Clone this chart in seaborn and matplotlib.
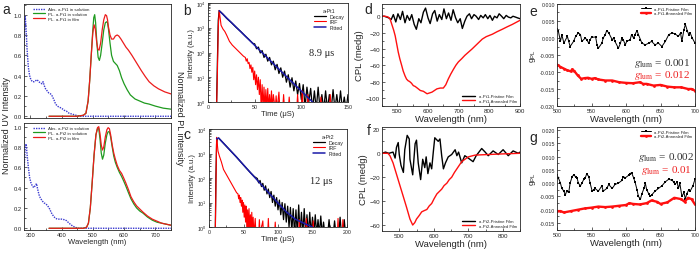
import numpy as np
import matplotlib
matplotlib.use("Agg")
import matplotlib.pyplot as plt
import seaborn as sns
from matplotlib.ticker import MultipleLocator, FormatStrFormatter

sns.set_style("ticks")
plt.rcParams['font.family'] = ['Liberation Sans', 'DejaVu Sans']
plt.rcParams['mathtext.fontset'] = 'stix'

# ---------------- panel a : absorption / PL ----------------
abs1_wl = [280, 282, 284, 286, 290, 294, 298, 302, 307, 312, 317, 322, 327, 332, 337, 341, 345, 349,
           354, 359, 365, 370, 376, 381, 387, 392, 400, 408, 416, 424, 435, 446, 460, 473, 600, 750]
abs1 = [0.70, 0.85, 0.98, 0.90, 0.65, 0.48, 0.40, 0.36, 0.34, 0.34, 0.35, 0.36, 0.34, 0.33, 0.32, 0.34,
        0.30, 0.27, 0.25, 0.23, 0.22, 0.20, 0.16, 0.12, 0.10, 0.09, 0.08, 0.06, 0.05, 0.03, 0.02, 0.01,
        0.0, 0.0, 0.0, 0.0]
pl1_wl = [360, 400, 450, 470, 478, 485, 490, 495, 500, 503, 506, 509, 513, 517, 521, 525, 530, 535, 540,
          544, 547, 550, 555, 560, 566, 572, 578, 585, 592, 600, 610, 620, 635, 650, 665, 680, 700, 725, 750]
pls1 = [0, 0, 0, 0.01, 0.03, 0.15, 0.35, 0.6, 0.85, 0.97, 1.0, 0.92, 0.72, 0.58, 0.55, 0.6, 0.72, 0.85,
        0.92, 0.93, 0.92, 0.86, 0.72, 0.6, 0.54, 0.52, 0.5, 0.45, 0.38, 0.32, 0.26, 0.21, 0.17, 0.15,
        0.13, 0.12, 0.10, 0.08, 0.07]
plf1_wl = [360, 400, 450, 470, 478, 485, 490, 495, 500, 504, 508, 512, 516, 520, 525, 530, 535, 540, 544,
           547, 550, 555, 560, 566, 572, 578, 583, 590, 598, 606, 614, 625, 635, 645, 655, 668, 680, 695,
           710, 730, 750]
plf1 = [0, 0, 0, 0.01, 0.03, 0.15, 0.35, 0.6, 0.82, 0.9, 0.86, 0.74, 0.66, 0.65, 0.72, 0.85, 0.95, 1.0,
        0.99, 0.95, 0.88, 0.8, 0.76, 0.76, 0.79, 0.80, 0.79, 0.76, 0.72, 0.68, 0.65, 0.6, 0.55, 0.5,
        0.45, 0.39, 0.34, 0.3, 0.27, 0.24, 0.22]

abs2_wl = [280, 282, 284, 287, 290, 294, 298, 302, 306, 311, 316, 320, 324, 328, 332, 338, 344, 350, 356,
           362, 368, 374, 380, 386, 392, 400, 408, 416, 424, 432, 440, 452, 470, 600, 750]
abs2 = [0.52, 0.70, 0.80, 0.83, 0.72, 0.6, 0.5, 0.45, 0.42, 0.40, 0.42, 0.44, 0.38, 0.33, 0.30, 0.27,
        0.25, 0.24, 0.22, 0.19, 0.15, 0.12, 0.10, 0.09, 0.09, 0.09, 0.085, 0.075, 0.05, 0.03, 0.015,
        0.0, 0.0, 0.0, 0.0]
pl2_wl = [360, 420, 470, 480, 486, 492, 498, 504, 510, 515, 519, 523, 527, 531, 535, 540, 545, 549, 553,
          557, 562, 567, 572, 578, 585, 592, 598, 605, 614, 622, 631, 640, 650, 660, 675, 690, 705, 720,
          735, 750]
plf2 = [0, 0, 0, 0.01, 0.05, 0.2, 0.45, 0.72, 0.92, 0.99, 1.0, 0.93, 0.82, 0.77, 0.8, 0.9, 0.97, 0.99,
        0.98, 0.92, 0.82, 0.74, 0.68, 0.62, 0.57, 0.54, 0.5, 0.45, 0.38, 0.31, 0.26, 0.22, 0.19, 0.16,
        0.12, 0.09, 0.07, 0.05, 0.04, 0.03]
pls2 = [0, 0, 0, 0.01, 0.05, 0.2, 0.45, 0.72, 0.92, 0.98, 0.98, 0.88, 0.74, 0.68, 0.72, 0.84, 0.92, 0.95,
        0.95, 0.9, 0.8, 0.71, 0.65, 0.6, 0.55, 0.51, 0.47, 0.42, 0.35, 0.29, 0.24, 0.2, 0.17, 0.15,
        0.11, 0.08, 0.06, 0.05, 0.04, 0.03]

# ---------------- panels b, c : decay (log10 intensity) ----------------
b_dec_t = [0, 9, 10, 11, 12, 16, 20, 25, 30, 35, 40, 44, 48] + list(range(50, 151, 2))
b_dec_log = [-0.5, -0.5, 1.5, 3.3, 3.69, 3.55, 3.38, 3.21, 3.02, 2.85, 2.66, 2.52, 2.37,
             2.35, 2.15, 2.22, 1.98, 2.08, 1.80, 1.93, 1.65, 1.80, 1.50, 1.65, 1.30, 1.52, 1.15, 1.38,
             1.0, 1.25, 0.8, 1.1, 0.6, 0.98, 0.45, 0.85, 0.3, 0.75, 0.1, 0.7, -0.2, 0.6, 0.0,
             0.55, -0.3, 0.45, -0.3, 0.6, -0.3, 0.3, -0.3, 0.45, -0.3, 0.3, -0.3, 0.5, -0.3, 0.3,
             -0.3, 0.45, -0.3, 0.2, -0.3, 0.3]
b_irf_t = [0, 9, 10, 11, 12, 13, 14, 16, 18, 20, 23, 26, 30, 34, 38] + list(range(40, 71)) + \
          [72, 73, 74, 76, 77, 80, 81, 82, 86, 87, 88, 95, 96, 97, 100, 101, 102, 106, 107, 108,
           120, 121, 122, 130, 131, 132, 150]
b_irf_log = [-0.5, -0.5, 1.0, 3.0, 3.7, 3.4, 3.1, 2.95, 2.85, 2.7, 2.45, 2.3, 2.15, 2.0, 1.85,
             1.8, 1.65, 1.75, 1.55, 1.6, 1.35, 1.5, 1.2, 1.4, 0.9, 1.25, 0.7, 1.1, 0.5, 1.0, 0.3, 0.9,
             -0.3, 0.7, -0.3, 0.6, -0.3, 0.5, -0.3, 0.55, -0.3, 0.3, -0.3, 0.45, -0.3, 0.3,
             -0.3, 0.25, -0.3, 0.4, -0.3, -0.3, 0.3, -0.3, -0.3, 0.2, -0.3, -0.3, 0.3, -0.3, -0.3,
             0.45, -0.3, -0.3, 0.3, -0.3, -0.3, 0.2, -0.3, -0.3, 0.3, -0.3, -0.3]
b_fit_t = [12, 30, 50, 70, 90, 112]
b_fit_log = [3.69, 3.03, 2.29, 1.55, 0.81, 0.0]

c_dec_t = [0, 9, 10, 11, 12, 14, 20, 30, 40, 50, 60, 66] + list(range(70, 201, 2))
c_dec_log = [-0.5, -0.5, 2.0, 3.4, 3.6, 3.63, 3.45, 3.15, 2.85, 2.53, 2.22, 2.05,
             1.98, 1.8, 1.9, 1.65, 1.78, 1.5, 1.68, 1.35, 1.55, 1.2, 1.45, 1.0, 1.3, 0.85, 1.2,
             0.7, 1.1, 0.5, 1.0, 0.3, 0.95, 0.2, 0.85, 0.0, 0.8, -0.2, 0.75, -0.3, 0.7, -0.3,
             0.9, -0.3, 0.6, -0.3, 0.75, -0.3, 0.5, -0.3, 0.6, -0.3, 0.4, -0.3, 0.5, -0.3, 0.3,
             -0.3, 0.45, -0.3, 0.2, -0.3, -0.3, -0.3, 0.3, -0.3, -0.3, -0.3, 0.25, -0.3, -0.3,
             -0.3, 0.4, -0.3, -0.3, 0.3, -0.3, -0.3]
c_irf_t = [0, 9, 10, 11, 12, 13, 15, 18, 21, 24, 28, 32, 36, 40, 42] + list(range(43, 66)) + \
          [67, 68, 72, 73, 74, 78, 79, 85, 86, 87, 95, 96, 97, 130, 131, 132, 140, 141, 142, 150,
           151, 152, 186, 187, 188, 193, 194, 195, 200]
c_irf_log = [-0.5, -0.5, 1.5, 3.66, 3.4, 3.1, 2.9, 2.65, 2.35, 2.2, 2.0, 1.8, 1.6, 1.4, 1.35,
             1.15, 1.3, 1.0, 1.2, 0.85, 1.1, 0.6, 1.0, 0.4, 0.9, 0.2, 0.85, -0.3, 0.7, -0.3, 0.75,
             -0.3, 0.5, -0.3, 0.6, -0.3, 0.4, -0.3,
             0.35, -0.3, -0.3, 0.3, -0.3, 0.25, -0.3, -0.3, 0.35, -0.3, -0.3, 0.2, -0.3, -0.3, 0.3,
             -0.3, -0.3, 0.35, -0.3, -0.3, 0.25, -0.3, -0.3, 0.35, -0.3, -0.3, 0.3, -0.3, -0.3]
c_fit_t = [11, 14, 40, 60, 80, 100, 112, 125, 140, 150]
c_fit_log = [3.6, 3.63, 2.85, 2.22, 1.6, 0.98, 0.62, 0.32, 0.12, 0.0]

# ---------------- panels d, f : CPL ----------------
d_wl_b = [450, 457, 465, 472, 480, 487, 495, 502, 510, 517, 525, 532, 540, 547, 555, 562, 570, 577, 585,
          592, 600, 607, 615, 622, 630, 637, 645, 652, 660, 667, 675, 682, 690, 697, 705, 712, 720, 727,
          735, 742, 750, 757, 765, 772, 780, 787, 795, 802, 810, 817, 825, 832, 840, 847, 855, 862, 870,
          877, 885, 892, 900]
d_b = [0, 0, -1, -2, -4, 2, -7, 3, -4, 6, -8, 1, -5, 2, -10, -16, -3, -8, 5, 10, -2, -9, 3, 7, -6, 2,
       -4, 9, -3, 4, -5, 8, -2, -8, -3, -15, -6, 0, 3, -3, 2, 0, -4, 1, -2, 2, -3, 1, -5, 0, -2, 3, 0,
       -3, 1, -1, -2, 0, -1, -2, -3]
d_wl_r = [450, 460, 470, 476, 482, 488, 493, 498, 503, 508, 514, 519, 525, 530, 535, 540, 546, 552, 558,
          565, 575, 585, 597, 605, 613, 621, 629, 640, 650, 658, 666, 674, 683, 691, 699, 710, 720, 732,
          744, 755, 766, 777, 790, 810, 825, 842, 858, 875, 890, 900]
d_r = [0, 0, -1, -3, -10, -17, -24, -34, -44, -52, -60, -67, -73, -77, -79, -80, -82, -85, -86, -88,
       -91, -92, -95, -94, -93, -91, -89, -88, -88, -84, -77, -71, -65, -60, -56, -52, -48, -44, -40,
       -36, -32, -28, -25, -22, -19, -16, -13, -10, -7, -5]

f_wl_b = [450, 460, 470, 482, 488, 492, 497, 500, 505, 512, 516, 523, 529, 531, 539, 546, 550, 555, 562,
          568, 574, 578, 583, 589, 594, 599, 603, 613, 618, 623, 628, 634, 642, 652, 662, 667, 672, 681,
          690, 700, 714, 723, 739, 749, 758, 772, 787, 801, 816, 830, 845, 850]
f_b = [0, 1, 0, 1, -4, 5, 9, -1, -10, -16, 3, 15, 12, -5, -18, 8, 11, -8, -22, -5, -12, -3, -17, -8,
       -13, 2, 13, 10, 12, -2, -13, -8, -3, -1, 3, -2, 1, -8, -2, -4, -7, -2, 4, 1, -2, 2, -1, 3, -2,
       2, 0, 1]
f_wl_r = [450, 467, 473, 482, 492, 502, 511, 521, 531, 539, 545, 550, 558, 565, 572, 580, 587, 594, 601,
          609, 616, 623, 630, 638, 645, 652, 660, 667, 681, 700, 720, 760, 800, 850]
f_r = [0, 0, -2, -8, -17.5, -27, -35.5, -45, -55, -60, -58, -55, -52, -49, -48, -47, -44, -42, -38, -34,
       -32, -30, -27, -25, -22, -20, -16, -13, -7, -3, -1.5, -1, -0.5, 0]

# ---------------- panels e, g : g_PL ----------------
e_wl_b = [500, 502, 505, 507, 510, 515, 517, 519, 524, 527, 531, 534, 536, 541, 543, 546, 548, 550, 556,
          558, 560, 565, 567, 570, 572, 575, 580, 582, 584, 589, 592, 594, 596, 599, 601, 606, 608, 611,
          613, 616, 618, 621, 623, 628, 633, 637, 642, 647, 652, 657, 662, 667, 671, 676, 679, 681, 684,
          686, 689, 691, 693, 696, 700]
e_b = [0.0027, 0.002, -0.001, 0.001, -0.0015, 0.0005, -0.001, -0.0025, -0.001, 0.0005, 0.0015, 0.001,
       -0.001, 0.0, -0.0005, -0.0015, -0.0005, 0.0002, 0.0003, -0.002, -0.003, -0.0015, 0.0, 0.001,
       0.0022, 0.0015, -0.0005, 0.0, -0.001, -0.003, -0.0015, 0.0, -0.0005, -0.002, -0.001, -0.0005,
       0.001, 0.0, 0.001, 0.0022, 0.001, -0.0005, -0.0015, -0.002, -0.0015, -0.001, -0.002, -0.0015,
       -0.0025, -0.001, 0.001, 0.0015, 0.0012, 0.0005, 0.0015, -0.001, 0.0025, 0.004, 0.002, 0.001,
       0.0015, 0.0, -0.0015]
e_wl_r = [500, 505, 510, 515, 520, 522, 525, 530, 535, 540, 545, 550, 555, 560, 570, 580, 590, 600, 610,
          620, 625, 630, 640, 650, 660, 670, 680, 690, 695, 700]
e_r = [-0.0078, -0.0085, -0.009, -0.0095, -0.0098, -0.0092, -0.0097, -0.011, -0.012, -0.0118, -0.0117,
       -0.012, -0.0118, -0.0122, -0.0125, -0.0125, -0.013, -0.0132, -0.0133, -0.013, -0.0135, -0.0135,
       -0.014, -0.0138, -0.0143, -0.0145, -0.0145, -0.015, -0.015, -0.0155]

g_wl_b = [500, 502, 505, 507, 510, 512, 514, 517, 519, 522, 524, 527, 529, 531, 534, 536, 539, 541, 543,
          546, 548, 551, 553, 555, 560, 565, 567, 572, 575, 580, 584, 589, 594, 596, 599, 604, 606, 608,
          611, 613, 616, 618, 621, 623, 626, 628, 630, 633, 635, 637, 642, 647, 652, 657, 662, 667, 669,
          671, 674, 676, 678, 681, 684, 686, 688, 691, 693, 697, 700]
g_b = [0.003, 0.002, 0.0, -0.002, -0.003, -0.0045, -0.003, -0.0035, 0.0, 0.0025, 0.003, 0.0025, 0.002,
       0.0, -0.001, 0.0, 0.0015, 0.002, 0.0035, 0.0025, 0.0, -0.003, -0.0025, -0.002, -0.003, -0.001,
       -0.003, -0.002, -0.0005, -0.002, -0.0005, 0.0, 0.001, 0.0025, 0.002, 0.003, 0.0035, 0.004, 0.002,
       0.0005, -0.0025, -0.005, -0.006, -0.004, -0.002, 0.0, -0.0025, -0.004, -0.005, -0.0045, -0.003,
       -0.002, -0.001, 0.0005, 0.0015, 0.001, 0.0005, -0.0005, 0.0005, -0.002, 0.0, -0.005, -0.0035,
       -0.006, -0.004, -0.0025, -0.003, -0.001, 0.0015]
g_wl_r = [500, 505, 510, 520, 530, 540, 550, 560, 570, 580, 590, 600, 605, 610, 620, 630, 637, 645, 650,
          660, 670, 680, 685, 690, 695, 700]
g_r = [-0.0105, -0.0105, -0.011, -0.0105, -0.010, -0.0095, -0.0092, -0.0088, -0.009, -0.0088, -0.0085,
       -0.0082, -0.0075, -0.0078, -0.008, -0.0075, -0.0065, -0.007, -0.0078, -0.0072, -0.0055, -0.006,
       -0.007, -0.0055, -0.006, -0.008]

W, H = 700, 255
BLUE_ABS = '#3a3ad0'
GREEN = '#1f9a1f'
RED = '#ec1c1c'
NAVY = '#1a1aa8'


def rect(l, t, r, b):
    return [l / W, 1 - b / H, (r - l) / W, (b - t) / H]


def style(ax, fs=4.5):
    ax.tick_params(which='both', direction='in', labelsize=fs, width=0.5, pad=1.5)
    ax.tick_params(which='major', length=2.2)
    ax.tick_params(which='minor', length=1.2)
    for s in ax.spines.values():
        s.set_linewidth(0.6)


def line(ax, x, y, **kw):
    sns.lineplot(x=x, y=y, ax=ax, estimator=None, sort=False, **kw)


fig = plt.figure(figsize=(W / 100, H / 100), dpi=100)

# ---- a ----
ax_a1 = fig.add_axes(rect(24, 5, 171, 119))
ax_a2 = fig.add_axes(rect(24, 124, 171, 231))
for ax, awl, ab, pwl, pfw, ps, pf, tag, ylim in [
        (ax_a1, abs1_wl, abs1, pl1_wl, plf1_wl, pls1, plf1, 'Pt1', (-0.017, 1.105)),
        (ax_a2, abs2_wl, abs2, pl2_wl, pl2_wl, pls2, plf2, 'Pt2', (-0.017, 1.036))]:
    line(ax, awl, ab, color=BLUE_ABS, lw=1.0, linestyle=(0, (1, 0.8)), label=f'Abs. a-{tag} in solution')
    line(ax, pwl, ps, color=GREEN, lw=0.9, label=f'PL. a-{tag} in solution')
    line(ax, pfw, pf, color=RED, lw=0.9, label=f'PL. a-{tag} in film')
    ax.set_xlim(280, 750)
    ax.set_ylim(*ylim)
    ax.xaxis.set_major_locator(MultipleLocator(100))
    ax.xaxis.set_minor_locator(MultipleLocator(50))
    ax.yaxis.set_major_locator(MultipleLocator(0.2))
    ax.yaxis.set_minor_locator(MultipleLocator(0.1))
    ax.yaxis.set_major_formatter(FormatStrFormatter('%.1f'))
    style(ax, 4.2)
    ax.set_ylabel('')
    ax.legend(loc='upper left', bbox_to_anchor=(0.04, 1.0), fontsize=3.2, frameon=False,
              handlelength=2.6, labelspacing=0.15, borderaxespad=0.3)
ax_a1.tick_params(labelbottom=False)
ax_a1.set_xlabel('')
ax_a2.set_xlabel('Wavelength (nm)', fontsize=5.5, labelpad=1)
fig.text(7 / W, 1 - 125 / H, 'Normalized UV Intensity', rotation=90, fontsize=6.5, ha='center', va='center')
fig.text(180 / W, 1 - 118 / H, 'Normalized PL intensity', rotation=270, fontsize=6.5, ha='center', va='center')

# ---- b, c ----
ax_b = fig.add_axes(rect(208, 4, 348, 103))
ax_c = fig.add_axes(rect(209, 130, 347, 228))
for ax, dt, dl, it, il, ft, fl, tag, xmax, tau, tx, ty in [
        (ax_b, b_dec_t, b_dec_log, b_irf_t, b_irf_log, b_fit_t, b_fit_log, 'a-Pt1', 150, '8.9 μs', 0.81, 0.50),
        (ax_c, c_dec_t, c_dec_log, c_irf_t, c_irf_log, c_fit_t, c_fit_log, 'a-Pt2', 200, '12 μs', 0.81, 0.47)]:
    line(ax, dt, 10 ** np.array(dl), color='black', lw=0.9, label='Decay')
    line(ax, it, 10 ** np.array(il), color='#ff0000', lw=0.8, label='IRF')
    line(ax, ft, 10 ** np.array(fl), color=NAVY, lw=1.1, label='Fitted')
    ax.set_yscale('log')
    ax.set_ylim(1, 1e4)
    ax.set_xlim(0, xmax)
    ax.xaxis.set_major_locator(MultipleLocator(50))
    ax.xaxis.set_minor_locator(MultipleLocator(25))
    style(ax, 3.8)
    ax.set_ylabel('Intensity (a.u.)', fontsize=5.5, labelpad=1)
    ax.set_xlabel('Time (μS)', fontsize=5.5, labelpad=1)
    ax.legend(loc='upper right', bbox_to_anchor=(1.0, 0.98), title=tag, title_fontsize=3.8, fontsize=3.8,
              frameon=False, handlelength=2.2, labelspacing=0.1, borderaxespad=0.2)
    ax.text(tx, ty, tau, transform=ax.transAxes, fontsize=7.5, family='Liberation Serif',
            ha='center', va='center')

# ---- d, f ----
ax_d = fig.add_axes(rect(382, 5, 520, 107))
ax_f = fig.add_axes(rect(382, 128, 520, 232))
for ax, bw, bv, rw, rv, tag, xlim, ylim in [
        (ax_d, d_wl_b, d_b, d_wl_r, d_r, 'a-Pt1', (450, 900), (-110, 15)),
        (ax_f, f_wl_b, f_b, f_wl_r, f_r, 'a-Pt2', (450, 850), (-65, 22))]:
    line(ax, bw, bv, color='black', lw=1.0, label=f'{tag}-Pristine Film')
    line(ax, rw, rv, color='#ff1010', lw=1.0, label=f'{tag}-Annealed Film')
    ax.set_xlim(*xlim)
    ax.set_ylim(*ylim)
    ax.xaxis.set_major_locator(MultipleLocator(100))
    ax.xaxis.set_minor_locator(MultipleLocator(50))
    ax.yaxis.set_major_locator(MultipleLocator(20))
    ax.yaxis.set_minor_locator(MultipleLocator(10))
    style(ax, 4.5)
    ax.set_ylabel('CPL (medg)', fontsize=6.8, labelpad=1)
    ax.set_xlabel('Wavelength (nm)', fontsize=6.8, labelpad=1)
    ax.legend(loc='lower right', fontsize=3.1, frameon=False, handlelength=3.2, labelspacing=0.15,
              borderaxespad=0.3)

# ---- e, g ----
ax_e = fig.add_axes(rect(557, 5, 695, 107))
ax_g = fig.add_axes(rect(557, 128, 695, 231))
for ax, bw, bv, rw, rv, tag, ylim, gb, gr, tx, tyb, tyr in [
        (ax_e, e_wl_b, e_b, e_wl_r, e_r, 'a-Pt1', (-0.02, 0.01), '0.001', '0.012', 0.76, 0.43, 0.31),
        (ax_g, g_wl_b, g_b, g_wl_r, g_r, 'a-Pt2', (-0.0176, 0.0211), '0.002', '0.01', 0.79, 0.71, 0.59)]:
    line(ax, bw, bv, color='black', lw=0.7, marker='s', markersize=1.8, markeredgewidth=0,
         label=f'{tag}-Pristine Film')
    line(ax, rw, rv, color='#ff1010', lw=1.7, marker='o', markersize=2.0, markeredgewidth=0,
         label=f'{tag}-Annealed Film')
    ax.set_xlim(500, 700)
    ax.set_ylim(*ylim)
    ax.xaxis.set_major_locator(MultipleLocator(50))
    ax.xaxis.set_minor_locator(MultipleLocator(25))
    ax.yaxis.set_major_locator(MultipleLocator(0.005))
    ax.yaxis.set_minor_locator(MultipleLocator(0.0025))
    ax.yaxis.set_major_formatter(FormatStrFormatter('%.3f'))
    style(ax, 3.8)
    ax.set_ylabel(r'g$_\mathregular{PL}$', fontsize=6, labelpad=1)
    ax.set_xlabel('Wavelength (nm)', fontsize=6.8, labelpad=1)
    ax.legend(loc='upper right', fontsize=3.1, frameon=False, handlelength=2.4, labelspacing=0.15,
              borderaxespad=0.2)
    ax.text(tx, tyb, r'$g_{\rm lum}$ = ' + gb, transform=ax.transAxes, fontsize=8,
            family='Liberation Serif', color='#333333', ha='center', va='center')
    ax.text(tx, tyr, r'$g_{\rm lum}$ = ' + gr, transform=ax.transAxes, fontsize=8,
            family='Liberation Serif', color='#ee2222', ha='center', va='center')

# panel letters
for lab, x, y in [('a', 6, 10), ('b', 187, 11), ('c', 187, 135), ('d', 368, 10), ('f', 369, 131),
                  ('e', 533, 12), ('g', 533, 138)]:
    fig.text(x / W, 1 - y / H, lab, fontsize=10, ha='center', va='center')

fig.savefig('out.png', dpi=100)
